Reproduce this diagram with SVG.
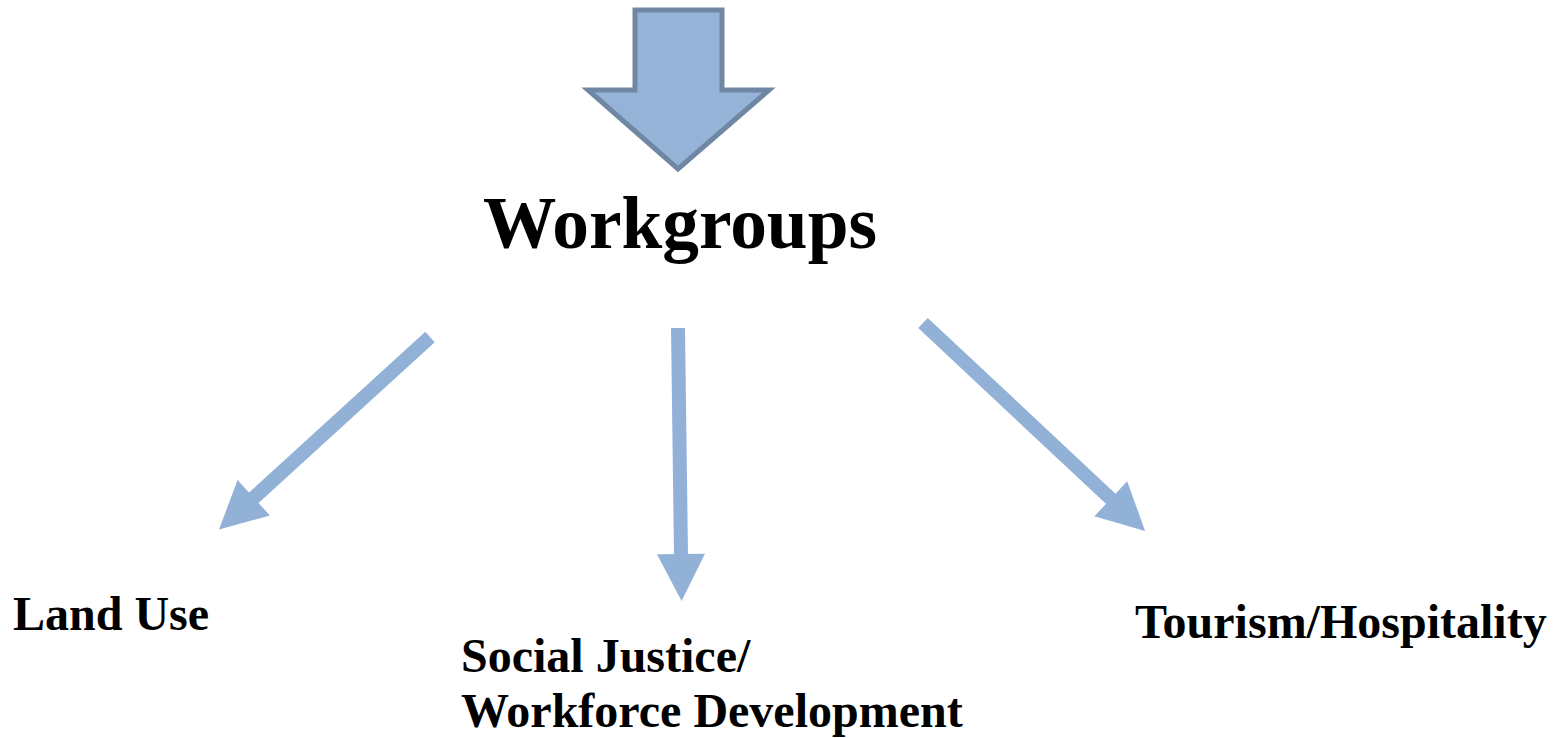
<svg xmlns="http://www.w3.org/2000/svg" width="1562" height="738" viewBox="0 0 1562 738">
  <style>
    .lbl { font-family: "Liberation Serif", "Times New Roman", serif; font-weight: bold; fill: #000000; }
    .conn { stroke: #92B1D7; stroke-width: 14; fill: none; marker-end: url(#head); }
  </style>
  <defs>
    <marker id="head" markerUnits="userSpaceOnUse" markerWidth="50" markerHeight="50" viewBox="0 -25 50 50" refX="1" refY="0" orient="auto" overflow="visible">
      <path d="M0,-24 L47,0 L0,24 Z" fill="#92B1D7"/>
    </marker>
  </defs>
  <rect width="1562" height="738" fill="#ffffff"/>
  <g id="top-arrow">
    <polygon points="635,10 722,10 722,90 769,90 678,169 588,90 635,90" fill="#95B3D7" stroke="#6F87A3" stroke-width="5" stroke-linejoin="miter"/>
  </g>
  <g id="workgroups">
    <text class="lbl" x="483" y="248" font-size="74" textLength="394" lengthAdjust="spacingAndGlyphs">Workgroups</text>
  </g>
  <g id="connectors">
    <line class="conn" x1="430" y1="337" x2="253" y2="498.5"/>
    <line class="conn" x1="678" y1="328" x2="681" y2="555"/>
    <line class="conn" x1="923" y1="323" x2="1111.5" y2="499.5"/>
  </g>
  <g id="land-use">
    <text class="lbl" x="13" y="630" font-size="48">Land Use</text>
  </g>
  <g id="social-justice">
    <text class="lbl" x="461" y="672" font-size="48">Social Justice/</text>
    <text class="lbl" x="461" y="727" font-size="48">Workforce Development</text>
  </g>
  <g id="tourism">
    <text class="lbl" x="1135" y="638" font-size="48">Tourism/Hospitality</text>
  </g>
</svg>
